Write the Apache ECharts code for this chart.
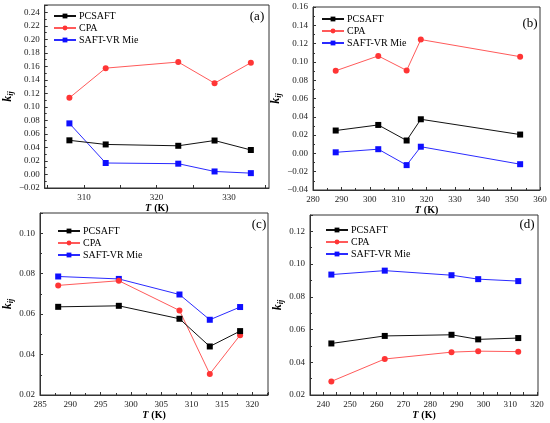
<!DOCTYPE html>
<html>
<head>
<meta charset="utf-8">
<script src="https://cdn.jsdelivr.net/npm/echarts@6/dist/echarts.min.js"></script>
<style>
  html, body { margin: 0; padding: 0; background: #fff; }
  #main { width: 550px; height: 423px; }
</style>
</head>
<body>
<div id="main"></div>
<script>
// panel (a)
const tA = [308, 313, 323, 328, 333];
const pcsaftA = [0.0506, 0.0445, 0.0425, 0.0503, 0.0363];
const cpaA = [0.1135, 0.1575, 0.1665, 0.1352, 0.1655];
const saftA = [0.0757, 0.0170, 0.0160, 0.0045, 0.0020];
// panel (b)
const tB = [288, 303, 313, 318, 353];
const pcsaftB = [0.0250, 0.0311, 0.0141, 0.0373, 0.0206];
const cpaB = [0.0903, 0.1065, 0.0907, 0.1244, 0.1057];
const saftB = [0.0012, 0.0046, -0.0128, 0.0073, -0.0118];
// panel (c)
const tC = [288, 298, 308, 313, 318];
const pcsaftC = [0.0636, 0.0641, 0.0577, 0.0440, 0.0516];
const cpaC = [0.0742, 0.0765, 0.0618, 0.0304, 0.0496];
const saftC = [0.0786, 0.0774, 0.0697, 0.0572, 0.0635];
// panel (d)
const tD = [243, 263, 288, 298, 313];
const pcsaftD = [0.0515, 0.0561, 0.0568, 0.0540, 0.0548];
const cpaD = [0.0283, 0.0420, 0.0462, 0.0468, 0.0465];
const saftD = [0.0936, 0.0960, 0.0932, 0.0908, 0.0896];

const seriesNames = ["PCSAFT", "CPA", "SAFT-VR Mie"];
const panelLabels = ["(a)", "(b)", "(c)", "(d)"];
const xTicksA = [310, 320, 330];
const xMinorA = [305, 310, 315, 320, 325, 330, 335];
const xTicksD = [240, 250, 260, 270, 280, 290, 300, 310, 320];
const xMinorD = [240, 245, 250, 255, 260, 265, 270, 275, 280, 285, 290, 295, 300, 305, 310, 315, 320];

const serif = "Times New Roman, Liberation Serif, serif";
const axisColor = "#333";

let chart = echarts.init(document.getElementById("main"));

let grids = [
  { left: 41, top: 5, width: 228, height: 183 },
  { left: 313, top: 7, width: 227, height: 183 },
  { left: 40, top: 213, width: 228, height: 182 },
  { left: 310, top: 215, width: 228, height: 180 },
].map((g) => ({ ...g, show: true, borderColor: axisColor, borderWidth: 1, backgroundColor: "transparent" }));

function fmtY(v) {
  let s = Math.abs(v).toFixed(2);
  return v < -1e-9 ? "\u2212" + s : s;
}

function xAxisBase(i) {
  return {
    type: "value",
    gridIndex: i,
    name: "{t|T} {u|(K)}",
    nameLocation: "middle",
    nameGap: 13,
    nameTextStyle: {
      fontFamily: serif,
      rich: {
        t: { fontFamily: serif, fontSize: 10, fontWeight: "bold", fontStyle: "italic", color: "#000" },
        u: { fontFamily: serif, fontSize: 10, fontWeight: "bold", color: "#000" },
      },
    },
    splitLine: { show: false },
    axisLine: { show: true, onZero: false, lineStyle: { color: axisColor } },
    axisTick: { show: true, inside: true, length: 3, lineStyle: { color: axisColor } },
    minorTick: { show: false },
    axisLabel: { fontFamily: serif, fontSize: 9, color: "#222", margin: 5 },
  };
}

function yAxisBase(i, min, max) {
  return {
    type: "value",
    gridIndex: i,
    min: min,
    max: max,
    interval: 0.02,
    name: "{k|k}{s|ij}",
    nameLocation: "middle",
    nameGap: 25,
    nameTextStyle: {
      fontFamily: serif,
      rich: {
        k: { fontFamily: serif, fontSize: 12, fontWeight: "bold", fontStyle: "italic", color: "#000", lineHeight: 14 },
        s: { fontFamily: serif, fontSize: 8, fontWeight: "bold", fontStyle: "italic", color: "#000", lineHeight: 14, verticalAlign: "bottom", padding: [6, 0, 0, 0] },
      },
    },
    splitLine: { show: false },
    axisLine: { show: true, onZero: false, lineStyle: { color: axisColor } },
    axisTick: { show: true, inside: true, length: 3, lineStyle: { color: axisColor } },
    minorTick: { show: true, splitNumber: 2, length: 2, lineStyle: { color: axisColor } },
    axisLabel: { fontFamily: serif, fontSize: 9, color: "#222", margin: 5, showMaxLabel: false, formatter: fmtY },
  };
}

let xAxes = [
  { ...xAxisBase(0), min: 304.6, max: 335.5 },
  { ...xAxisBase(1), min: 280, max: 360, interval: 10 },
  { ...xAxisBase(2), min: 285, max: 322.6, interval: 5 },
  { ...xAxisBase(3), min: 235, max: 320.4 },
];
// custom tick positions where the range does not start on a tick
xAxes[0].axisLabel = { ...xAxes[0].axisLabel, customValues: xTicksA };
xAxes[0].axisTick = { ...xAxes[0].axisTick, customValues: xMinorA };
xAxes[3].axisLabel = { ...xAxes[3].axisLabel, customValues: xTicksD };
xAxes[3].axisTick = { ...xAxes[3].axisTick, customValues: xMinorD };
xAxes[1].minorTick = { show: true, splitNumber: 2, length: 2, lineStyle: { color: axisColor } };
xAxes[2].minorTick = { show: true, splitNumber: 2, length: 2, lineStyle: { color: axisColor } };
xAxes[2].axisLabel = { ...xAxes[2].axisLabel, showMaxLabel: false };
xAxes[0].nameGap = 12;
xAxes[3].nameGap = 12;

let yAxes = [
  yAxisBase(0, -0.02, 0.251),
  yAxisBase(1, -0.04, 0.16),
  yAxisBase(2, 0.02, 0.11),
  yAxisBase(3, 0.02, 0.13),
];
yAxes[1].axisLabel.showMaxLabel = true;

const styles = [
  { line: "#111", mark: "#000", symbol: "rect" },
  { line: "#ff5a5a", mark: "#ff3535", symbol: "circle" },
  { line: "#2b2bff", mark: "#0f0fff", symbol: "rect" },
];

let panels = [
  [tA, [pcsaftA, cpaA, saftA]],
  [tB, [pcsaftB, cpaB, saftB]],
  [tC, [pcsaftC, cpaC, saftC]],
  [tD, [pcsaftD, cpaD, saftD]],
];

let series = [];
panels.forEach(([temps, sets], i) => {
  sets.forEach((vals, j) => {
    series.push({
      name: seriesNames[j],
      type: "line",
      xAxisIndex: i,
      yAxisIndex: i,
      data: temps.map((t, k) => [t, vals[k]]),
      symbol: styles[j].symbol,
      symbolSize: 6,
      showSymbol: true,
      animation: false,
      lineStyle: { color: styles[j].line, width: 1 },
      itemStyle: { color: styles[j].mark },
      z: 3 - j,
    });
  });
});

const legendPos = [
  { left: 48, top: 6 },
  { left: 316, top: 9 },
  { left: 52, top: 221 },
  { left: 320, top: 220 },
];

let legends = legendPos.map((p) => ({
  ...p,
  orient: "vertical",
  data: seriesNames,
  itemWidth: 22,
  itemHeight: 6,
  itemGap: 2,
  selectedMode: false,
  textStyle: { fontFamily: serif, fontSize: 10, color: "#000", padding: [0, 0, 0, -2] },
}));

const labelPos = [
  [257, 17],
  [530, 24],
  [259, 225],
  [527, 225],
];

let graphics = labelPos.map(([x, y], i) => ({
  type: "text",
  x: x,
  y: y,
  style: {
    text: panelLabels[i],
    fontFamily: serif,
    fontSize: 13,
    fill: "#000",
    align: "center",
    verticalAlign: "middle",
  },
}));

let option = {
  backgroundColor: "#fff",
  animation: false,
  textStyle: { fontFamily: serif },
  grid: grids,
  xAxis: xAxes,
  yAxis: yAxes,
  legend: legends,
  graphic: graphics,
  series: series,
};

chart.setOption(option);
</script>
</body>
</html>
